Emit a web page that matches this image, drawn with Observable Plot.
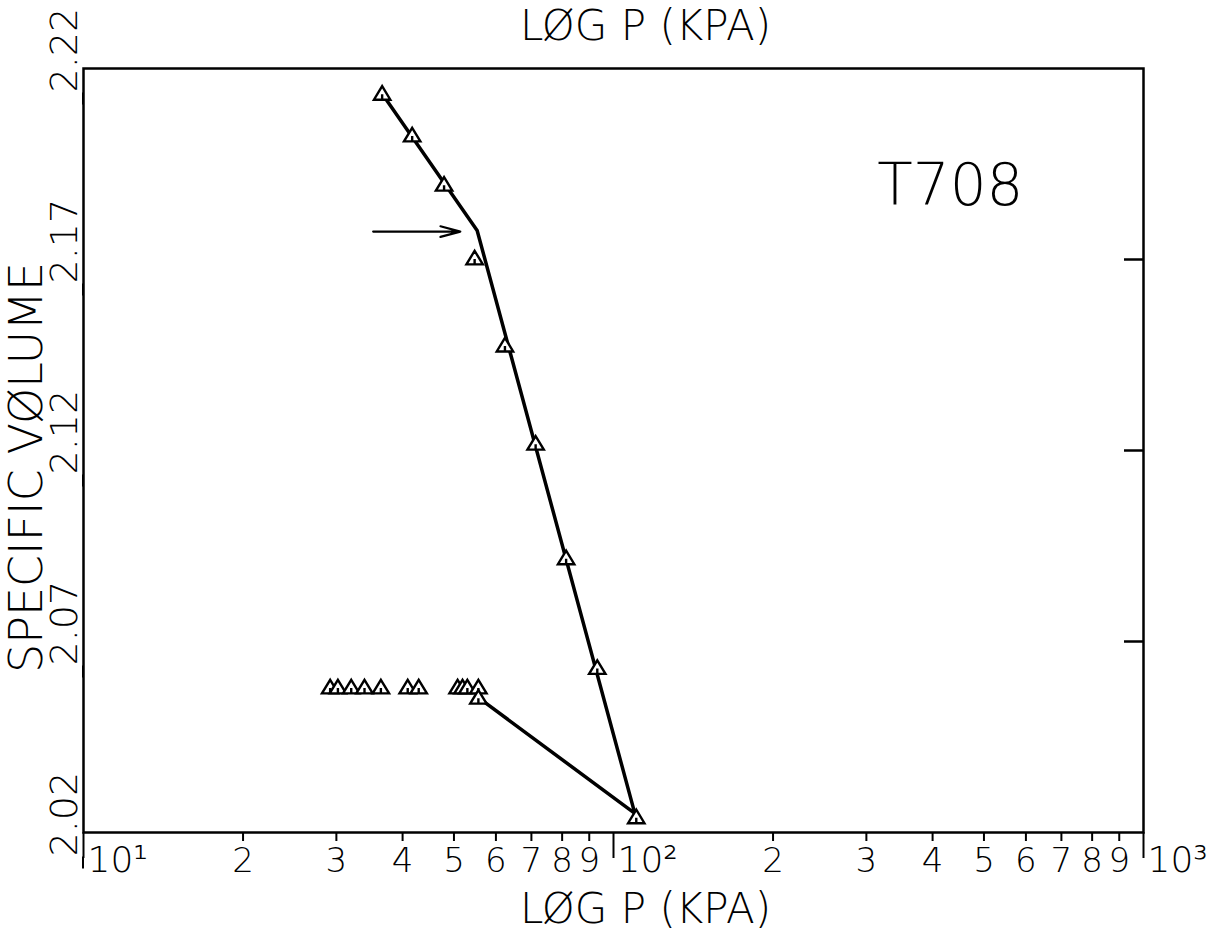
<!DOCTYPE html>
<html>
<head>
<meta charset="utf-8">
<script src="https://cdn.jsdelivr.net/npm/d3@7"></script>
<script src="https://cdn.jsdelivr.net/npm/@observablehq/plot@0.6"></script>
<style>
  html, body { margin: 0; padding: 0; background: #fff; }
  svg text { font-weight: 200; }
</style>
</head>
<body>
<div id="chart"></div>
<script>
// ---- data ----
// loading curve (triangles)
const loadP = [36.6, 41.7, 47.9, 54.7, 62.4, 71.3, 81.4, 93.2, 110.4];
const loadV = [2.2134, 2.2025, 2.1896, 2.1703, 2.1475, 2.1218, 2.0918, 2.0631, 2.0240];
// horizontal row of triangles
const rowP = [29.2, 30.2, 32.0, 33.9, 36.4, 40.9, 42.9, 50.8, 51.9, 53.0, 55.6];
const rowV = [2.058, 2.058, 2.058, 2.058, 2.058, 2.058, 2.058, 2.058, 2.058, 2.058, 2.058];
// unloading end point
const unloadP = [55.6];
const unloadV = [2.0553];
// fitted polyline vertices
const lineP = [36.6, 55.3, 109.7, 55.6];
const lineV = [2.2134, 2.1776, 2.025, 2.0553];
// arrow (marks the break)
const arrowP = [35.2, 51.4];
const arrowV = [2.1773, 2.1773];
// ticks
const decadeTicks = [10, 100, 1000];
const decadeLabels = ["10¹", "10²", "10³"];
const minorTicks = [20, 30, 40, 50, 60, 70, 80, 90, 200, 300, 400, 500, 600, 700, 800, 900];
const minorLabels = ["2", "3", "4", "5", "6", "7", "8", "9", "2", "3", "4", "5", "6", "7", "8", "9"];
const yTicks = [2.02, 2.07, 2.12, 2.17, 2.22];
const yRightTicks = [2.07, 2.12, 2.17];
const xTitle = "LØG P (KPA)";
const yTitle = "SPECIFIC VØLUME";
const sampleLabel = "T708";

const loadData = loadP.map((p, i) => ({p, v: loadV[i]}));
const rowData = rowP.map((p, i) => ({p, v: rowV[i]}));
const unloadData = unloadP.map((p, i) => ({p, v: unloadV[i]}));
const lineData = lineP.map((p, i) => ({p, v: lineV[i]}));
const arrowData = [{x1: arrowP[0], x2: arrowP[1], y1: arrowV[0], y2: arrowV[1]}];
const minorData = minorTicks.map((t, i) => ({t, label: minorLabels[i]}));
const decadeData = decadeTicks.map((t, i) => ({t, label: decadeLabels[i]}));

const plotterTriangle = {
  draw(ctx, size) {
    const r = Math.sqrt(size / Math.PI);
    ctx.moveTo(0, -1.2 * r);
    ctx.lineTo(1.3 * r, 0.95 * r);
    ctx.lineTo(-1.3 * r, 0.95 * r);
    ctx.closePath();
    ctx.moveTo(0, 0.1 * r);
    ctx.lineTo(0, 0.95 * r);
  }
};

const font = "DejaVu Sans";
const dotOpts = {x: "p", y: "v", r: 6.3, symbol: plotterTriangle, stroke: "black", fill: "white", strokeWidth: 2.4};

const chart = Plot.plot({
  width: 1208,
  height: 940,
  marginLeft: 83,
  marginRight: 65,
  marginTop: 68,
  marginBottom: 108,
  style: {fontFamily: font, background: "white", color: "black"},
  x: {type: "log", domain: [10, 1000]},
  y: {domain: [2.02, 2.22]},
  marks: [
    Plot.frame({stroke: "black", strokeWidth: 2.5}),
    // bottom axis: minor ticks (labels drawn below)
    Plot.axisX({ticks: minorTicks, tickSize: 9, strokeWidth: 2, tickFormat: () => "", label: null}),
    // bottom axis: decade ticks
    Plot.axisX({ticks: decadeTicks, tickSize: 26, strokeWidth: 2, tickFormat: () => "", label: null}),
    Plot.text(minorData, {x: "t", text: "label", frameAnchor: "bottom", lineAnchor: "top", dy: 15, fontSize: 34, fontFamily: font, fill: "black"}),
    Plot.text(decadeData, {x: "t", text: "label", frameAnchor: "bottom", textAnchor: "start", lineAnchor: "top", dx: 4, dy: 14, fontSize: 36, fontFamily: font, fill: "black"}),
    // left axis with rotated labels
    Plot.axisY({
      ticks: yTicks, tickSize: 12, tickPadding: 7, strokeWidth: 2,
      tickFormat: d => d.toFixed(2),
      rotate: -90, textAnchor: "start", lineAnchor: "middle", dy: 24,
      fontSize: 38, fontFamily: font, label: null
    }),
    // right axis: inward ticks, no labels
    Plot.axisY({
      anchor: "right", ticks: yRightTicks, tickSize: -20, strokeWidth: 2.5,
      tickFormat: () => "", label: null
    }),
    // fitted lines
    Plot.line(lineData, {x: "p", y: "v", stroke: "black", strokeWidth: 3.5, curve: "linear"}),
    // arrow
    Plot.arrow(arrowData, {x1: "x1", y1: "y1", x2: "x2", y2: "y2", stroke: "black", strokeWidth: 2.2, headLength: 14, headAngle: 30}),
    // triangles
    Plot.dot(rowData, dotOpts),
    Plot.dot(loadData, dotOpts),
    Plot.dot(unloadData, dotOpts),
    // texts
    Plot.text([xTitle], {frameAnchor: "top", textAnchor: "middle", lineAnchor: "top", dx: 32, dy: -58, fontSize: 42, fontFamily: font, fill: "black"}),
    Plot.text([xTitle], {frameAnchor: "bottom", textAnchor: "middle", lineAnchor: "top", dx: 32, dy: 61, fontSize: 42, fontFamily: font, fill: "black"}),
    Plot.text([yTitle], {frameAnchor: "left", textAnchor: "middle", rotate: -90, lineAnchor: "middle", dx: -56, dy: 17, fontSize: 46, fontFamily: font, fill: "black"}),
    Plot.text([sampleLabel], {frameAnchor: "top-right", textAnchor: "end", lineAnchor: "top", dx: -120, dy: 95, fontSize: 58, fontFamily: font, fill: "black"})
  ]
});
document.getElementById("chart").appendChild(chart);
</script>
</body>
</html>
